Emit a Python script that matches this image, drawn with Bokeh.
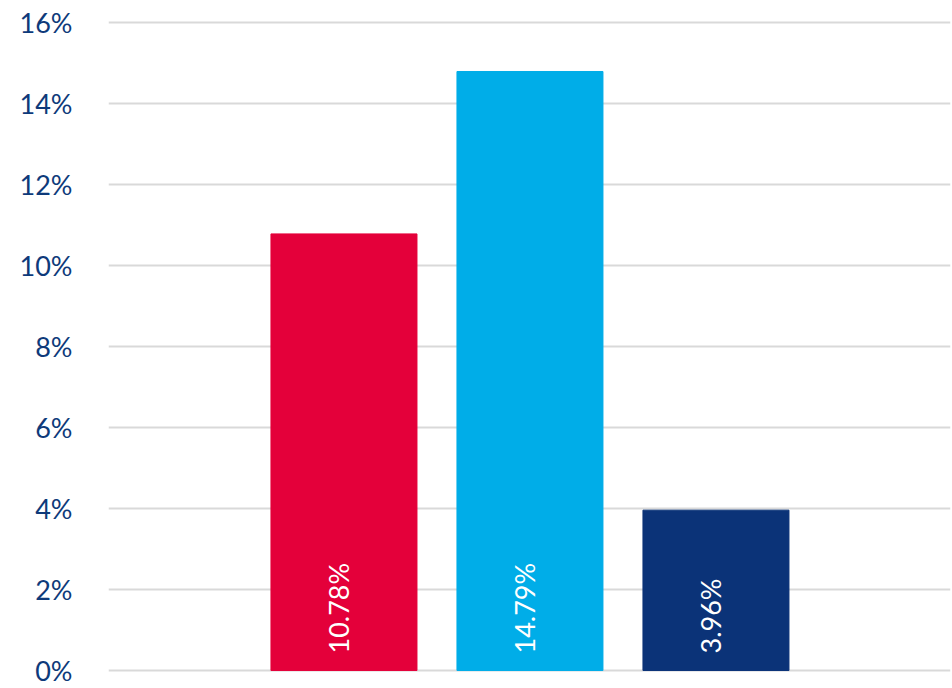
from bokeh.plotting import figure
from bokeh.models import Range1d, FixedTicker, NumeralTickFormatter, ColumnDataSource
from bokeh.core.properties import value
from bokeh.embed import file_html
from bokeh.resources import INLINE

series = ["A", "B", "C"]
values = [0.1078, 0.1479, 0.0396]
labels = ["10.78%", "14.79%", "3.96%"]
colors = ["#E4003A", "#00ADE8", "#0B3378"]
y_ticks = [0, 0.02, 0.04, 0.06, 0.08, 0.10, 0.12, 0.14, 0.16]

xs = list(range(len(series)))
src = ColumnDataSource(dict(x=xs, top=values, color=colors, label=labels,
                            base=[0.0] * len(xs)))

p = figure(width=952, height=688, output_backend="svg", toolbar_location=None,
           x_range=Range1d(-1.266, 3.261), y_range=Range1d(-0.00444, 0.16296),
           min_border_left=108, min_border_right=2, min_border_top=10,
           min_border_bottom=0)
p.outline_line_color = None
p.background_fill_color = "white"
p.border_fill_color = "white"

p.vbar(x="x", top="top", bottom=0, width=0.785, color="color", source=src)
p.text(x="x", y="base", text="label", angle=1.5708, source=src,
       text_color="white", text_font=value("Lato"), text_font_size="27px",
       text_align="left", text_baseline="middle", x_offset=-5, y_offset=-17)

p.xaxis.visible = False
p.xgrid.visible = False
p.ygrid.ticker = FixedTicker(ticks=y_ticks)
p.ygrid.grid_line_color = "#D9D9D9"
p.ygrid.grid_line_width = 2
p.yaxis.ticker = FixedTicker(ticks=y_ticks)
p.yaxis.formatter = NumeralTickFormatter(format="0%")
p.yaxis.axis_line_color = None
p.yaxis.major_tick_line_color = None
p.yaxis.minor_tick_line_color = None
p.yaxis.major_label_text_font = "Lato"
p.yaxis.major_label_text_font_size = "27px"
p.yaxis.major_label_text_color = "#0E3A7A"
p.yaxis.major_label_standoff = 30

open("out.html", "w").write(file_html(p, INLINE))
